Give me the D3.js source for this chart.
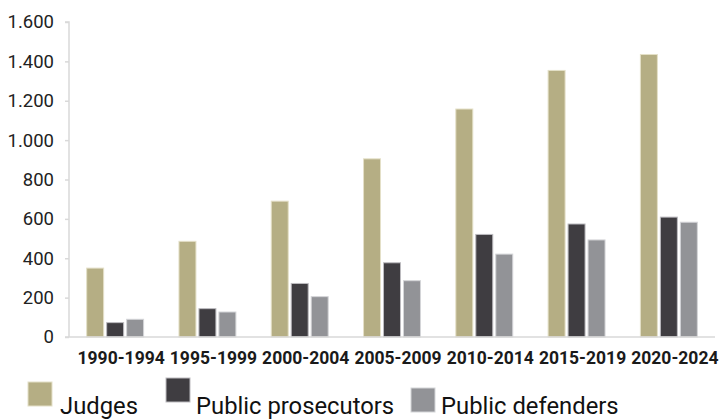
<!DOCTYPE html>
<html>
<head>
<meta charset="utf-8">
<script src="https://cdn.jsdelivr.net/npm/d3@7"></script>
<style>
  html, body { margin: 0; padding: 0; background: #fff; }
  svg { display: block; }
</style>
</head>
<body>
<svg id="chart" width="720" height="420"></svg>
<script>
// Number of professionals per five-year period
const periods = ["1990-1994", "1995-1999", "2000-2004", "2005-2009", "2010-2014", "2015-2019", "2020-2024"];
const seriesNames = ["Judges", "Public prosecutors", "Public defenders"];
const judges = [350, 486, 690, 905, 1158, 1354, 1435];
const prosecutors = [73, 144, 272, 377, 521, 574, 609];
const defenders = [90, 127, 205, 286, 421, 493, 583];
const yTicks = [0, 200, 400, 600, 800, 1000, 1200, 1400, 1600];

const seriesValues = [judges, prosecutors, defenders];
const colors = ["#b5ae84", "#3f3d41", "#929397"];
const outlines = ["#e4e0c8", "#bdbcc0", "#d4d5d8"];

const svg = d3.select("#chart");
const plotLeft = 69, plotRight = 715, plotTop = 22, plotBottom = 337;

const x0 = d3.scaleBand().domain(periods).range([plotLeft, plotRight])
  .paddingInner(0.383).paddingOuter(0.1915);
const x1 = d3.scaleBand().domain(seriesNames).range([0, x0.bandwidth()])
  .paddingInner(0.15).paddingOuter(0);
const y = d3.scaleLinear().domain([0, 1600]).range([plotBottom, plotTop]);

// Thousands separated with a dot
const fmt = d3.formatLocale({ decimal: ",", thousands: ".", grouping: [3], currency: ["", ""] }).format(",");

// Y axis
const yAxis = svg.append("g")
  .attr("transform", `translate(${plotLeft},0)`)
  .call(d3.axisLeft(y).tickValues(yTicks).tickFormat(fmt).tickSize(4).tickPadding(11));
yAxis.select(".domain").attr("stroke", "#d9d9d9").attr("stroke-width", 1.5)
  .attr("d", `M-4,${plotTop}H0V${plotBottom}`);
yAxis.selectAll(".tick line").attr("stroke", "#d9d9d9").attr("stroke-width", 1.5);
yAxis.selectAll(".tick text")
  .attr("fill", "#222")
  .style("font-family", "Roboto, sans-serif")
  .style("font-size", "18.5px");

// Bars
const rows = periods.map((p, i) => ({ period: p, values: seriesNames.map((s, k) => ({ key: s, k, value: seriesValues[k][i] })) }));
svg.append("g").selectAll("g").data(rows).join("g")
  .attr("transform", d => `translate(${x0(d.period)},0)`)
  .selectAll("rect").data(d => d.values).join("rect")
  .attr("x", d => x1(d.key))
  .attr("y", d => y(d.value))
  .attr("width", x1.bandwidth())
  .attr("height", d => y(0) - y(d.value))
  .attr("fill", d => colors[d.k])
  .attr("stroke", d => outlines[d.k])
  .attr("stroke-width", 1);

// X axis baseline and labels
const xAxis = svg.append("g")
  .attr("transform", `translate(0,${plotBottom})`)
  .call(d3.axisBottom(x0).tickSize(0).tickPadding(10));
xAxis.select(".domain").attr("stroke", "#d9d9d9").attr("stroke-width", 1.5)
  .attr("d", `M${plotLeft - 4},0H${plotRight}`);
xAxis.selectAll(".tick text")
  .attr("fill", "#1a1a1a")
  .attr("dx", 6)
  .attr("dy", "0.95em")
  .style("font-family", "Roboto, sans-serif")
  .style("font-weight", "700")
  .style("font-size", "17.5px");

// Legend
const legendItems = [
  { name: seriesNames[0], sx: 28, sy: 382, tx: 60 },
  { name: seriesNames[1], sx: 166, sy: 378, tx: 196 },
  { name: seriesNames[2], sx: 411, sy: 388, tx: 441 }
];
const legend = svg.append("g");
legendItems.forEach((d, k) => {
  legend.append("rect")
    .attr("x", d.sx).attr("y", d.sy).attr("width", 24).attr("height", 24)
    .attr("fill", colors[k]).attr("stroke", outlines[k]).attr("stroke-width", 1);
  legend.append("text")
    .attr("x", d.tx).attr("y", 414)
    .attr("fill", "#111")
    .style("font-family", "Roboto, sans-serif")
    .style("font-size", "23.8px")
    .text(d.name);
});
</script>
</body>
</html>
